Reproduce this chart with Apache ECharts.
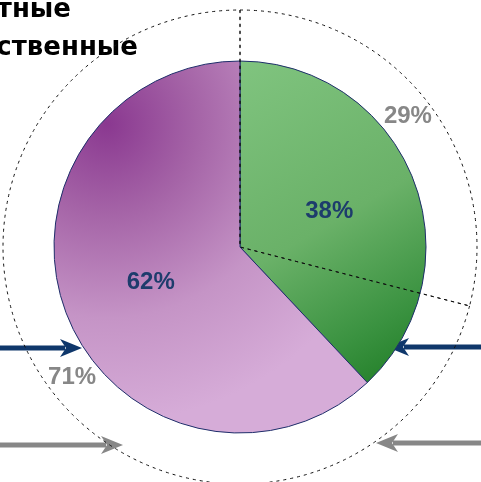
<!DOCTYPE html>
<html>
<head>
<meta charset="utf-8">
<style>
  html, body { margin: 0; padding: 0; background: #ffffff; }
  #chart { width: 481px; height: 482px; }
</style>
<script src="https://cdn.jsdelivr.net/npm/echarts@6/dist/echarts.min.js"></script>
</head>
<body>
<div id="chart"></div>
<script>
// Shares: inner pie and outer ring
const innerNames = ['Частные', 'Государственные'];
const innerValues = [38, 62];
const outerNames = ['Частные', 'Государственные'];
const outerValues = [29, 71];
const legendTexts = ['Частные', 'Государственные'];

const chart = echarts.init(document.getElementById('chart'), null, { renderer: 'canvas' });

const CENTER = [240, 247];
const R_IN = 186;
const R_OUT = 237;

const greenFill = new echarts.graphic.LinearGradient(0, 0, 1, 1, [
  { offset: 0, color: '#80c47f' },
  { offset: 0.5, color: '#6ab168' },
  { offset: 0.8, color: '#3a9240' },
  { offset: 1, color: '#1c7a22' }
]);
const purpleFill = new echarts.graphic.RadialGradient(0.17, 0.17, 0.95, [
  { offset: 0, color: '#8a3890' },
  { offset: 0.3, color: '#a564a7' },
  { offset: 0.65, color: '#c594c6' },
  { offset: 1, color: '#d6acd8' }
]);
const innerFills = [greenFill, purpleFill];

const arrow = (x1, x2, y, color, width, headLen, headHalf) => {
  const dir = Math.sign(x2 - x1);
  const baseX = x2 - dir * headLen;
  return {
    type: 'group',
    silent: true,
    children: [
      { type: 'line', shape: { x1: x1, y1: y, x2: baseX + dir * 2, y2: y },
        style: { stroke: color, lineWidth: width } },
      { type: 'polygon',
        shape: { points: [[x2, y], [baseX - dir * 3, y - headHalf], [baseX + dir * 3, y], [baseX - dir * 3, y + headHalf]] },
        style: { fill: color } }
    ]
  };
};

const option = {
  animation: false,
  graphic: [
    { type: 'text', x: 71, y: 10, silent: true,
      style: { text: legendTexts[0], align: 'right', verticalAlign: 'middle',
               font: 'bold 26px "DejaVu Sans"', fill: '#000000' } },
    { type: 'text', x: 138, y: 48, silent: true,
      style: { text: legendTexts[1], align: 'right', verticalAlign: 'middle',
               font: 'bold 26px "DejaVu Sans"', fill: '#000000' } },
    arrow(0, 82, 348, '#0f376b', 5, 19, 9),
    arrow(481, 387, 347, '#0f376b', 5, 19, 9),
    arrow(0, 123, 445, '#878787', 5, 19, 9),
    arrow(481, 376, 443, '#878787', 5, 19, 9)
  ],
  series: [
    {
      type: 'pie',
      center: CENTER,
      radius: [0, R_IN],
      startAngle: 90,
      clockwise: true,
      silent: true,
      avoidLabelOverlap: false,
      label: {
        show: true,
        position: 'inside',
        formatter: '{c}%',
        color: '#1d3c6c',
        fontFamily: '"Liberation Sans", Arial, sans-serif',
        fontWeight: 'bold',
        fontSize: 24
      },
      labelLine: { show: false },
      itemStyle: { borderColor: '#1e2e6a', borderWidth: 1 },
      data: innerValues.map((v, i) => ({ name: innerNames[i], value: v, itemStyle: { color: innerFills[i] } }))
    },
    {
      // outer ring: labels only
      type: 'pie',
      center: CENTER,
      radius: [R_IN - 4, R_OUT],
      startAngle: 90,
      clockwise: true,
      silent: true,
      avoidLabelOverlap: false,
      label: {
        show: true,
        position: 'inside',
        formatter: '{c}%',
        color: '#878787',
        fontFamily: '"Liberation Sans", Arial, sans-serif',
        fontWeight: 'bold',
        fontSize: 24
      },
      labelLine: { show: false },
      itemStyle: { color: 'rgba(0,0,0,0)', borderWidth: 0 },
      data: outerValues.map((v, i) => ({ name: outerNames[i], value: v }))
    },
    {
      // outer ring: dotted outline and radial dividers
      type: 'pie',
      center: CENTER,
      radius: [0, R_OUT],
      startAngle: 90,
      clockwise: true,
      silent: true,
      z: 5,
      label: { show: false },
      labelLine: { show: false },
      itemStyle: { color: 'rgba(0,0,0,0)', borderColor: '#111111', borderWidth: 1, borderType: [3, 4] },
      data: outerValues.map((v, i) => ({ name: outerNames[i], value: v }))
    }
  ]
};

chart.setOption(option);
</script>
</body>
</html>
